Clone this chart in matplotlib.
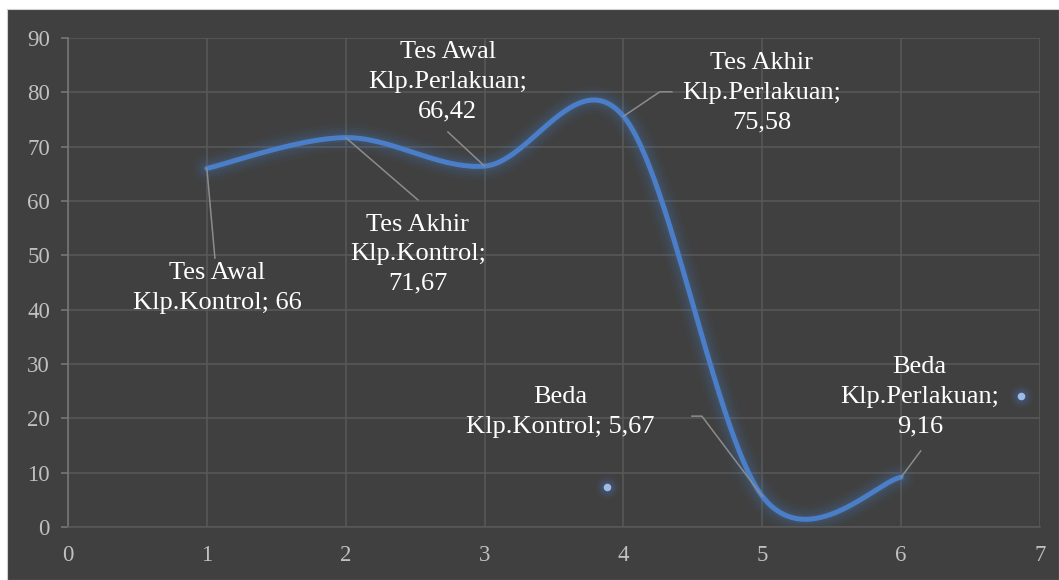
import numpy as np
import matplotlib.pyplot as plt
from matplotlib.patches import Rectangle

# series values
groups = ["Tes Awal\nKlp.Kontrol", "Tes Akhir\nKlp.Kontrol", "Tes Awal\nKlp.Perlakuan",
          "Tes Akhir\nKlp.Perlakuan", "Beda\nKlp.Kontrol", "Beda\nKlp.Perlakuan"]
xs = [1, 2, 3, 4, 5, 6]
scores = [66, 71.67, 66.42, 75.58, 5.67, 9.16]
# loose points of the second series
extra_x = [3.88, 6.86]
extra_y = [7.4, 24.2]

x_ticks = list(range(0, 8))
y_ticks = list(range(0, 100, 10))

BG = "#404040"
GRID = "#595959"
BLUE = "#4a7ec8"


def smooth_path(px, py, n=60):
    # bezier smoothing like office "smoothed line"
    pts = np.column_stack([px, py]).astype(float)
    out = []
    for i in range(len(pts) - 1):
        p0, p3 = pts[i], pts[i + 1]
        prev = pts[i - 1] if i > 0 else pts[i]
        nxt = pts[i + 2] if i + 2 < len(pts) else pts[i + 1]
        c1 = p0 + (p3 - prev) / 6
        c2 = p3 - (nxt - p0) / 6
        t = np.linspace(0, 1, n)[:, None]
        seg = (1 - t) ** 3 * p0 + 3 * (1 - t) ** 2 * t * c1 + 3 * (1 - t) * t ** 2 * c2 + t ** 3 * p3
        out.append(seg if i == 0 else seg[1:])
    return np.vstack(out)


def fmt(v):
    return f"{v:g}".replace(".", ",")


fig = plt.figure(figsize=(10.59, 5.8), dpi=100, facecolor="white")
fig.patches.append(Rectangle((7 / 1059, 0), 1 - 7 / 1059, 1 - 9 / 580, transform=fig.transFigure,
                             facecolor=BG, edgecolor="#d0d0d0", lw=0.8, zorder=-10))

ax = fig.add_axes([68 / 1059, 53 / 580, 972 / 1059, 489 / 580])
ax.set_facecolor(BG)
ax.set_xlim(0, 7)
ax.set_ylim(0, 90)
ax.set_xticks(x_ticks)
ax.set_yticks(y_ticks)
ax.grid(True, color=GRID, lw=1.1)
ax.set_axisbelow(True)
for s in ["top", "right"]:
    ax.spines[s].set_visible(False)
ax.spines["bottom"].set_color(GRID)
ax.spines["bottom"].set_linewidth(1.1)
ax.spines["left"].set_color("#7a7a7a")
ax.spines["left"].set_linewidth(1.1)
ax.tick_params(axis="y", length=5, width=1.1, color="#7a7a7a", pad=8)
ax.tick_params(axis="x", length=0, pad=13)
for lab in ax.get_xticklabels() + ax.get_yticklabels():
    lab.set_fontfamily("Liberation Serif")
    lab.set_fontsize(16.5)
    lab.set_color("#c0c0c0")

curve = smooth_path(xs, scores)
for w, a in [(20, 0.05), (15, 0.06), (11, 0.08), (7, 0.1)]:
    ax.plot(curve[:, 0], curve[:, 1], color=BLUE, lw=w, alpha=a, solid_capstyle="round")
ax.plot(curve[:, 0], curve[:, 1], color=BLUE, lw=3.6, solid_capstyle="round", zorder=3)

for s, a in [(260, 0.08), (160, 0.1), (90, 0.12)]:
    ax.scatter(extra_x, extra_y, s=s, color=BLUE, alpha=a, lw=0)
ax.scatter(extra_x, extra_y, s=30, color="#9dbbe8", lw=0, zorder=4)

# label centres and the text-side bends of the leader lines
label_pos = [(1.073, 44.0), (2.52, 50.2), (2.736, 81.9), (4.996, 79.9), (3.542, 21.2), (6.134, 23.9)]
seps = ["; ", ";\n", ";\n", ";\n", "; ", ";\n"]
leader_ends = [
    [(1.058, 49.5)],
    [(2.52, 60.2)],
    [(2.736, 72.7)],
    [(4.349, 80.1), (4.262, 80.1)],
    [(4.493, 20.4), (4.565, 20.4)],
    [(6.141, 14.0)],
]

for name, sep, x, y, (tx, ty), ends in zip(groups, seps, xs, scores, label_pos, leader_ends):
    lx = [p[0] for p in ends] + [x]
    ly = [p[1] for p in ends] + [y]
    ax.plot(lx, ly, color="#8c8c8c", lw=1.1, zorder=4)
    ax.text(tx, ty, f"{name}{sep}{fmt(y)}", ha="center", va="center", color="white",
            fontsize=19, family="Liberation Serif", linespacing=1.45, zorder=5)

fig.savefig("out.png", dpi=100, facecolor=fig.get_facecolor())
